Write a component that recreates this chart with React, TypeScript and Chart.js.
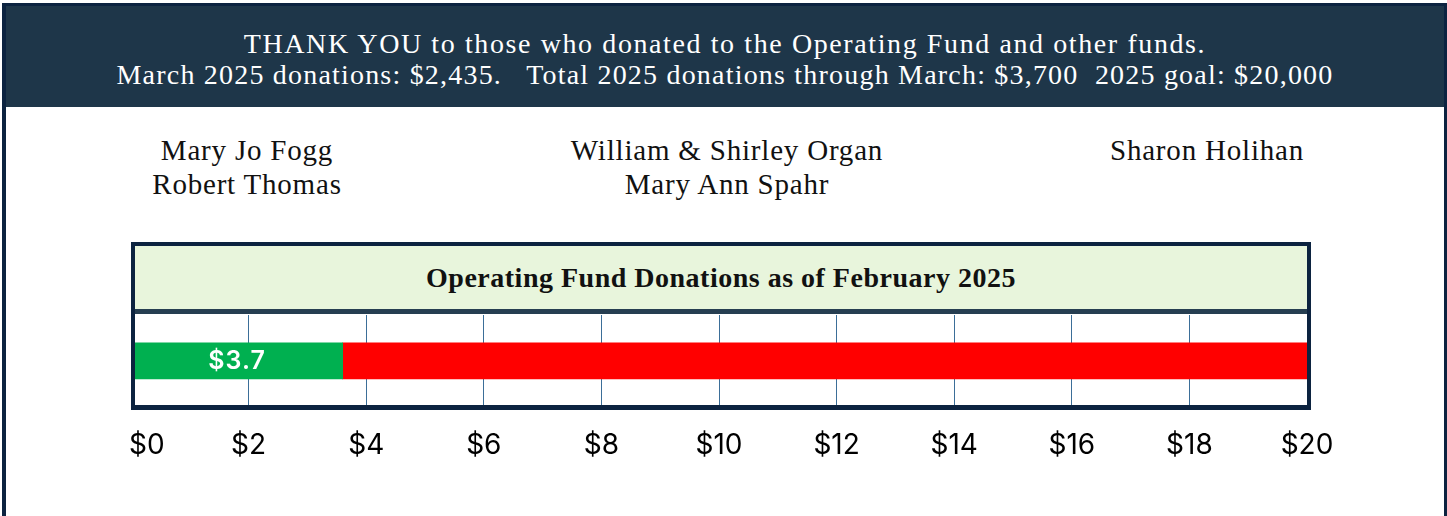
import React, { useEffect, useRef } from "react";
import { Chart, registerables } from "chart.js";

Chart.register(...registerables);

const headerLines = [
  "THANK YOU to those who donated to the Operating Fund and other funds.",
  "March 2025 donations: $2,435.   Total 2025 donations through March: $3,700  2025 goal: $20,000",
];
const headerSpacing = ["1.6px", "1.2px"];
const donorColumns = [
  ["Mary Jo Fogg", "Robert Thomas"],
  ["William & Shirley Organ", "Mary Ann Spahr"],
  ["Sharon Holihan"],
];
const chartTitle = "Operating Fund Donations as of February 2025";

const categories = ["Operating Fund"];
const raisedValues = [3.6];
const remainingValues = [16.4];
const barLabels = ["$3.7"];
const tickLabels = ["    $0", "$2", "$4", "$6", "$8", "$10", "$12", "$14", "$16", "$18", "$20"];

const SERIF = '"Liberation Serif", "Times New Roman", serif';
const SANS = 'Inter, "Noto Sans", sans-serif';

const barLabelPlugin = {
  id: "barLabel",
  afterDatasetsDraw(chart: any) {
    const ctx = chart.ctx;
    const meta = chart.getDatasetMeta(0);
    ctx.save();
    ctx.font = `600 25px ${SANS}`;
    (ctx as any).letterSpacing = "1px";
    ctx.fillStyle = "#ffffff";
    ctx.textAlign = "center";
    ctx.textBaseline = "middle";
    meta.data.forEach((el: any, i: number) => {
      const x = (el.base + el.x) / 2;
      ctx.fillText(barLabels[i], x, el.y + 1);
    });
    ctx.restore();
  },
};

function BarChart() {
  const ref = useRef<HTMLCanvasElement>(null);
  useEffect(() => {
    if (!ref.current) return;
    const chart = new Chart(ref.current, {
      type: "bar",
      data: {
        labels: categories,
        datasets: [
          { data: raisedValues, backgroundColor: "#00b050", barThickness: 36, borderWidth: 0 },
          { data: remainingValues, backgroundColor: "#ff0000", barThickness: 36, borderWidth: 0 },
        ],
      },
      options: {
        indexAxis: "y",
        responsive: false,
        animation: false,
        layout: { padding: { left: 131, right: 140, top: 0, bottom: 5.6 } },
        plugins: { legend: { display: false }, tooltip: { enabled: false }, title: { display: false } },
        scales: {
          x: {
            stacked: true,
            min: 0,
            max: 20,
            ticks: {
              stepSize: 2,
              padding: 22,
              color: "#000000",
              font: { family: SANS, size: 28, lineHeight: 1.2 },
              maxRotation: 0,
              autoSkip: false,
              callback: (_v: any, i: number) => tickLabels[i],
            },
            grid: { color: "#3b6e98", lineWidth: 1, drawTicks: false },
            border: { display: false },
          },
          y: { stacked: true, display: false },
        },
      },
      plugins: [barLabelPlugin],
    } as any);
    return () => chart.destroy();
  }, []);
  return (
    <canvas
      ref={ref}
      width={1447}
      height={175}
      style={{ position: "absolute", left: 0, top: 315, width: 1447, height: 175, display: "block" }}
    />
  );
}

const columnCenters = [247, 727, 1207];

export default function App() {
  return (
    <div style={{ position: "absolute", left: 0, top: 0, width: 1447, height: 516, overflow: "hidden", background: "#ffffff" }}>
      <div
        style={{
          position: "absolute",
          left: 2,
          top: 3,
          width: 1445,
          height: 600,
          boxSizing: "border-box",
          borderLeft: "4px solid #0c2340",
          borderTop: "3px solid #0c2340",
          borderRight: "3px solid #0c2340",
        }}
      >
        <div
          style={{
            height: 101,
            background: "#1e3649",
            color: "#ffffff",
            fontFamily: SERIF,
            fontSize: 28,
            lineHeight: "31px",
            textAlign: "center",
            paddingTop: 22,
            boxSizing: "border-box",
            whiteSpace: "pre",
          }}
        >
          {headerLines.map((l, i) => (
            <div key={i} style={{ letterSpacing: headerSpacing[i] }}>{l}</div>
          ))}
        </div>
      </div>

      {donorColumns.map((col, i) => (
        <div
          key={i}
          style={{
            position: "absolute",
            left: columnCenters[i] - 250,
            width: 500,
            top: 133,
            textAlign: "center",
            fontFamily: SERIF,
            fontSize: 29,
            letterSpacing: "0.8px",
            lineHeight: "34px",
            color: "#111111",
          }}
        >
          {col.map((n, j) => (
            <div key={j}>{n}</div>
          ))}
        </div>
      ))}

      <BarChart />

      <div
        style={{
          position: "absolute",
          left: 131,
          top: 242,
          width: 1180,
          height: 168,
          boxSizing: "border-box",
          borderTop: "4px solid #0c2340",
          borderLeft: "4px solid #0c2340",
          borderRight: "4px solid #0c2340",
          borderBottom: "5px solid #0c2340",
          pointerEvents: "none",
        }}
      >
        <div
          style={{
            height: 63,
            background: "#e8f5dc",
            borderBottom: "5px solid #263e51",
            boxSizing: "content-box",
            textAlign: "center",
            fontFamily: SERIF,
            fontSize: 28,
            fontWeight: 600,
            letterSpacing: "0.5px",
            lineHeight: "63px",
            color: "#111111",
          }}
        >
          {chartTitle}
        </div>
      </div>
    </div>
  );
}
